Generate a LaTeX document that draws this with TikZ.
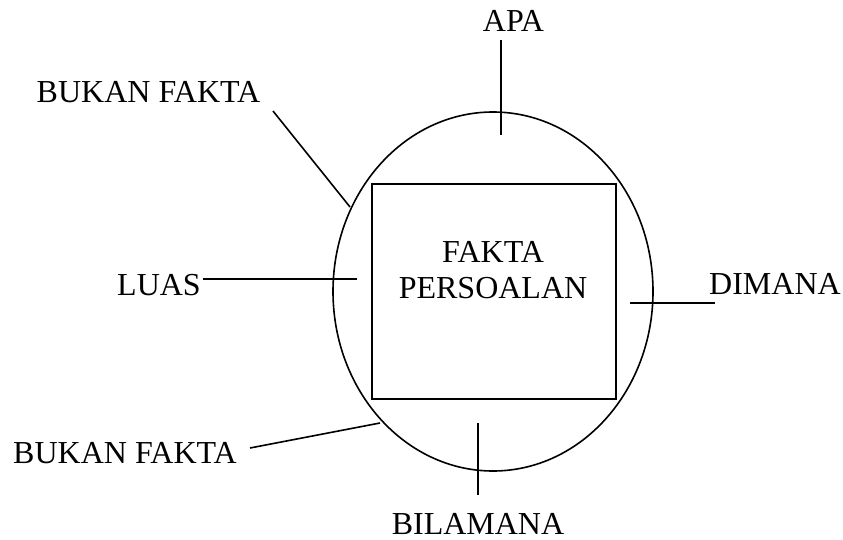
\documentclass[tikz,border=0pt]{standalone}
\usepackage{fontspec}
\setmainfont{Liberation Serif}
\begin{document}
\begin{tikzpicture}[x=1pt,y=-1pt,
  lbl/.style={anchor=base,inner sep=0pt,font=\fontsize{32}{36}\selectfont},
  ln/.style={line width=1.6pt}]
\useasboundingbox (0,0) rectangle (843,540);
% outer ellipse and inner box
\draw[ln] (493,291.5) ellipse [x radius=160, y radius=179.5];
\node[draw,ln,minimum width=244pt,minimum height=215pt,inner sep=0pt]
  (box) at (494,291.5) {};
\node[lbl] (fakta) at (493,262) {FAKTA};
\node[lbl] (persoalan) at (493,298) {PERSOALAN};
% labels around the ellipse
\node[lbl] (apa) at (513.5,32) {APA};
\node[lbl] (bft) at (148.5,103) {BUKAN FAKTA};
\node[lbl] (luas) at (159,295) {LUAS};
\node[lbl] (dimana) at (775,294) {DIMANA};
\node[lbl] (bfb) at (125,463) {BUKAN FAKTA};
\node[lbl] (bilamana) at (478,534) {BILAMANA};
% connector end points
\coordinate (apa1) at (501,40);  \coordinate (apa2) at (501,135);
\coordinate (bft1) at (273,111); \coordinate (bft2) at (350,207);
\coordinate (luas1) at (203,279); \coordinate (luas2) at (357,279);
\coordinate (dim1) at (630,303); \coordinate (dim2) at (715,303);
\coordinate (bfb1) at (250,448); \coordinate (bfb2) at (380,423);
\coordinate (bil1) at (478,423); \coordinate (bil2) at (478,495);
\draw[ln] (apa1) -- (apa2);
\draw[ln] (bft1) -- (bft2);
\draw[ln] (luas1) -- (luas2);
\draw[ln] (dim1) -- (dim2);
\draw[ln] (bfb1) -- (bfb2);
\draw[ln] (bil1) -- (bil2);
\end{tikzpicture}
\end{document}
